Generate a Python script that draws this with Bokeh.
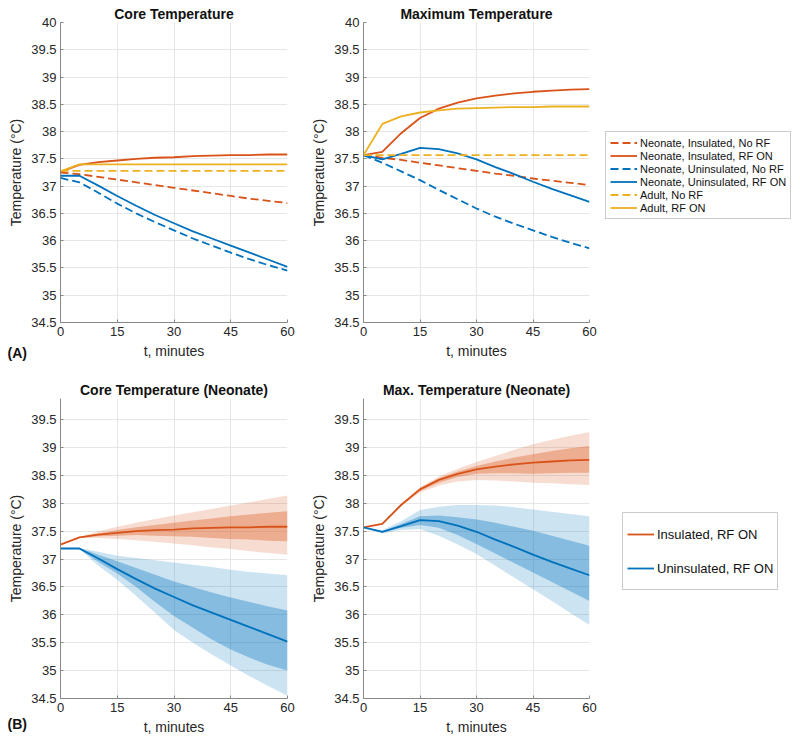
from bokeh.plotting import figure
from bokeh.layouts import column, row
from bokeh.models import (FixedTicker, CustomJSTickFormatter, Legend, LegendItem,
                          Label, Range1d)
from bokeh.embed import file_html
from bokeh.resources import INLINE

# ---------------- data ----------------
t = [0, 5, 10, 15, 20, 25, 30, 35, 40, 45, 50, 55, 60]

# Core temperature (panel A, left)
core_ins_norf = [37.25, 37.22, 37.17, 37.12, 37.07, 37.02, 36.97, 36.92, 36.87, 36.82, 36.77, 36.73, 36.69]
core_ins_rf = [37.26, 37.39, 37.44, 37.47, 37.50, 37.52, 37.53, 37.55, 37.56, 37.57, 37.57, 37.58, 37.58]
core_unins_norf = [37.15, 37.07, 36.88, 36.68, 36.50, 36.34, 36.19, 36.04, 35.91, 35.78, 35.66, 35.55, 35.45]
core_unins_rf = [37.19, 37.19, 37.01, 36.82, 36.64, 36.47, 36.32, 36.17, 36.04, 35.91, 35.78, 35.65, 35.52]
core_adult_norf = [37.28] * 13
core_adult_rf = [37.27, 37.40, 37.40, 37.40, 37.40, 37.40, 37.40, 37.40, 37.40, 37.40, 37.40, 37.40, 37.40]

# Maximum temperature (panel A, right)
max_ins_norf = [37.57, 37.52, 37.48, 37.43, 37.38, 37.33, 37.28, 37.23, 37.19, 37.14, 37.10, 37.06, 37.02]
max_ins_rf = [37.57, 37.63, 37.97, 38.25, 38.42, 38.53, 38.61, 38.66, 38.70, 38.73, 38.75, 38.77, 38.78]
max_unins_norf = [37.57, 37.43, 37.27, 37.11, 36.93, 36.76, 36.59, 36.44, 36.31, 36.19, 36.07, 35.96, 35.86]
max_unins_rf = [37.57, 37.49, 37.59, 37.70, 37.68, 37.60, 37.49, 37.35, 37.22, 37.08, 36.95, 36.83, 36.71]
max_adult_norf = [37.57] * 13
max_adult_rf = [37.57, 38.14, 38.28, 38.35, 38.39, 38.42, 38.43, 38.44, 38.45, 38.45, 38.46, 38.46, 38.46]

# Panel B, core: uncertainty bands (outer / inner)
core_ins_outer_hi = [37.26, 37.39, 37.50, 37.58, 37.65, 37.72, 37.78, 37.84, 37.90, 37.96, 38.02, 38.08, 38.14]
core_ins_outer_lo = [37.26, 37.38, 37.38, 37.36, 37.34, 37.31, 37.28, 37.25, 37.21, 37.18, 37.14, 37.11, 37.08]
core_ins_inner_hi = [37.26, 37.39, 37.46, 37.52, 37.57, 37.61, 37.65, 37.69, 37.73, 37.77, 37.80, 37.83, 37.86]
core_ins_inner_lo = [37.26, 37.38, 37.41, 37.42, 37.43, 37.42, 37.41, 37.40, 37.38, 37.36, 37.35, 37.33, 37.32]
core_unins_outer_hi = [37.19, 37.20, 37.13, 37.06, 37.02, 36.98, 36.94, 36.90, 36.86, 36.81, 36.77, 36.74, 36.71]
core_unins_outer_lo = [37.19, 37.18, 36.88, 36.63, 36.34, 36.04, 35.73, 35.50, 35.29, 35.09, 34.90, 34.72, 34.55]
core_unins_inner_hi = [37.19, 37.20, 37.08, 36.96, 36.84, 36.72, 36.60, 36.50, 36.40, 36.31, 36.23, 36.15, 36.08]
core_unins_inner_lo = [37.19, 37.18, 36.95, 36.74, 36.50, 36.23, 35.98, 35.77, 35.56, 35.38, 35.23, 35.10, 35.00]

# Panel B, max: uncertainty bands
max_ins_outer_hi = [37.57, 37.65, 38.00, 38.29, 38.48, 38.62, 38.74, 38.85, 38.96, 39.06, 39.14, 39.21, 39.28]
max_ins_outer_lo = [37.57, 37.63, 37.96, 38.19, 38.32, 38.39, 38.42, 38.41, 38.39, 38.37, 38.36, 38.34, 38.33]
max_ins_inner_hi = [37.57, 37.64, 37.99, 38.27, 38.45, 38.57, 38.67, 38.75, 38.82, 38.88, 38.94, 38.99, 39.03]
max_ins_inner_lo = [37.57, 37.64, 37.97, 38.22, 38.37, 38.47, 38.53, 38.54, 38.54, 38.53, 38.54, 38.55, 38.55]
max_unins_outer_hi = [37.57, 37.52, 37.68, 37.88, 37.94, 37.97, 37.97, 37.96, 37.93, 37.89, 37.85, 37.81, 37.77]
max_unins_outer_lo = [37.57, 37.46, 37.52, 37.54, 37.42, 37.26, 37.09, 36.88, 36.67, 36.46, 36.25, 36.03, 35.82]
max_unins_inner_hi = [37.57, 37.50, 37.63, 37.77, 37.78, 37.75, 37.71, 37.65, 37.58, 37.51, 37.42, 37.33, 37.24]
max_unins_inner_lo = [37.57, 37.48, 37.56, 37.61, 37.56, 37.43, 37.27, 37.10, 36.93, 36.76, 36.59, 36.42, 36.25]

x_ticks = [0, 15, 30, 45, 60]
y_ticks = [34.5, 35, 35.5, 36, 36.5, 37, 37.5, 38, 38.5, 39, 39.5, 40]

legend_a_labels = ["Neonate, Insulated, No RF", "Neonate, Insulated, RF ON",
                   "Neonate, Uninsulated, No RF", "Neonate, Uninsulated, RF ON",
                   "Adult, No RF", "Adult, RF ON"]
legend_b_labels = ["Insulated, RF ON", "Uninsulated, RF ON"]

RED = "#D95319"
BLUE = "#0072BD"
YEL = "#EDB120"
FONT = "Liberation Sans"
LW = 1.8
DASH = "8 4"


def make_fig(title, width, height, left, right, top, bottom, ymax):
    p = figure(width=width, height=height, output_backend="svg", toolbar_location=None,
               x_range=Range1d(0, 60), y_range=Range1d(34.5, ymax),
               min_border_left=left, min_border_right=right,
               min_border_top=top, min_border_bottom=bottom,
               title=title)
    p.outline_line_color = None
    p.title.text_font = FONT
    p.title.text_font_size = "14px"
    p.title.text_font_style = "bold"
    p.title.align = "center"
    p.title.standoff = 1
    p.title.offset = 0
    p.title.text_color = "#111111"
    for ax in (p.xaxis[0], p.yaxis[0]):
        ax.major_label_text_font = FONT
        ax.major_label_text_font_size = "13px"
        ax.major_label_text_color = "#262626"
        ax.axis_label_text_font = FONT
        ax.axis_label_text_font_size = "14px"
        ax.axis_label_text_font_style = "normal"
        ax.axis_label_text_color = "#262626"
        ax.axis_line_color = "#888888"
        ax.major_tick_line_color = "#888888"
        ax.major_tick_in = 3
        ax.major_tick_out = 0
        ax.minor_tick_line_color = None
        ax.major_label_standoff = 4
        ax.axis_label_standoff = 4
    p.xaxis.ticker = FixedTicker(ticks=x_ticks)
    p.yaxis.ticker = FixedTicker(ticks=y_ticks)
    p.yaxis.formatter = CustomJSTickFormatter(code="return String(Math.round(tick*10)/10);")
    p.xaxis.axis_label = "t, minutes"
    p.yaxis.axis_label = "Temperature (°C)"
    p.xgrid.grid_line_color = "#e6e6e6"
    p.ygrid.grid_line_color = "#e6e6e6"
    return p


def panel_tag(text, x, y):
    return Label(x=x, y=y, x_units="screen", y_units="screen", text=text,
                 text_font=FONT, text_font_size="14px", text_font_style="bold",
                 text_baseline="middle", text_color="#111111")


def legend_fig(width, height, labels, colors, dashes, loc, font_size, label_h):
    q = figure(width=width, height=height, output_backend="svg", toolbar_location=None,
               x_range=Range1d(0, 1), y_range=Range1d(0, 1),
               x_axis_type=None, y_axis_type=None,
               min_border_left=0, min_border_right=0, min_border_top=0, min_border_bottom=0)
    q.outline_line_color = None
    q.xgrid.visible = False
    q.ygrid.visible = False
    items = []
    for lab, c, d in zip(labels, colors, dashes):
        # placeholder renderer outside the visible range, used only for the legend glyph
        r = q.line([5, 6], [5, 6], color=c, line_width=LW, line_dash=d)
        items.append(LegendItem(label=lab, renderers=[r]))
    lg = Legend(items=items, location=loc, spacing=0, label_height=label_h,
                glyph_height=label_h, glyph_width=27, label_standoff=3, padding=4,
                margin=0)
    lg.label_text_font = FONT
    lg.label_text_font_size = font_size
    lg.label_text_color = "#111111"
    lg.border_line_color = "#999999"
    lg.border_line_width = 1
    lg.background_fill_color = "white"
    q.add_layout(lg)
    return q


# ---- Panel A left ----
p1 = make_fig("Core Temperature", 307, 374, 60, 20, 22, 52, 40)
p1.line(t, core_ins_norf, color=RED, line_width=LW, line_dash=DASH)
p1.line(t, core_ins_rf, color=RED, line_width=LW)
p1.line(t, core_unins_norf, color=BLUE, line_width=LW, line_dash=DASH)
p1.line(t, core_unins_rf, color=BLUE, line_width=LW)
p1.line(t, core_adult_norf, color=YEL, line_width=LW, line_dash=DASH)
p1.line(t, core_adult_rf, color=YEL, line_width=LW)
p1.add_layout(panel_tag("(A)", -280, -30), "right")

# ---- Panel A right ----
p2 = make_fig("Maximum Temperature", 292, 374, 56, 10, 22, 52, 40)
p2.line(t, max_ins_norf, color=RED, line_width=LW, line_dash=DASH)
p2.line(t, max_ins_rf, color=RED, line_width=LW)
p2.line(t, max_unins_norf, color=BLUE, line_width=LW, line_dash=DASH)
p2.line(t, max_unins_rf, color=BLUE, line_width=LW)
p2.line(t, max_adult_norf, color=YEL, line_width=LW, line_dash=DASH)
p2.line(t, max_adult_rf, color=YEL, line_width=LW)

legA = legend_fig(201, 374, legend_a_labels,
                  [RED, RED, BLUE, BLUE, YEL, YEL],
                  [DASH, "solid", DASH, "solid", DASH, "solid"],
                  (6, 103), "11px", 13)


def bands(p, lo_o, hi_o, lo_i, hi_i, color):
    p.varea(x=t, y1=lo_o, y2=hi_o, fill_color=color, fill_alpha=0.2)
    p.varea(x=t, y1=lo_i, y2=hi_i, fill_color=color, fill_alpha=0.35)


# ---- Panel B left ----
p3 = make_fig("Core Temperature (Neonate)", 307, 369, 60, 20, 24, 45, 39.88)
bands(p3, core_ins_outer_lo, core_ins_outer_hi, core_ins_inner_lo, core_ins_inner_hi, RED)
bands(p3, core_unins_outer_lo, core_unins_outer_hi, core_unins_inner_lo, core_unins_inner_hi, BLUE)
p3.line(t, core_ins_rf, color=RED, line_width=LW)
p3.line(t, core_unins_rf, color=BLUE, line_width=LW)
p3.add_layout(panel_tag("(B)", -280, -25), "right")

# ---- Panel B right ----
p4 = make_fig("Max. Temperature (Neonate)", 292, 369, 56, 10, 24, 45, 39.88)
bands(p4, max_ins_outer_lo, max_ins_outer_hi, max_ins_inner_lo, max_ins_inner_hi, RED)
bands(p4, max_unins_outer_lo, max_unins_outer_hi, max_unins_inner_lo, max_unins_inner_hi, BLUE)
p4.line(t, max_ins_rf, color=RED, line_width=LW)
p4.line(t, max_unins_rf, color=BLUE, line_width=LW)

legB = legend_fig(201, 369, legend_b_labels, [RED, BLUE], ["solid", "solid"],
                  (23, 108), "13px", 34)

layout = column(row(p1, p2, legA), row(p3, p4, legB))
open("out.html", "w").write(file_html(layout, INLINE))
